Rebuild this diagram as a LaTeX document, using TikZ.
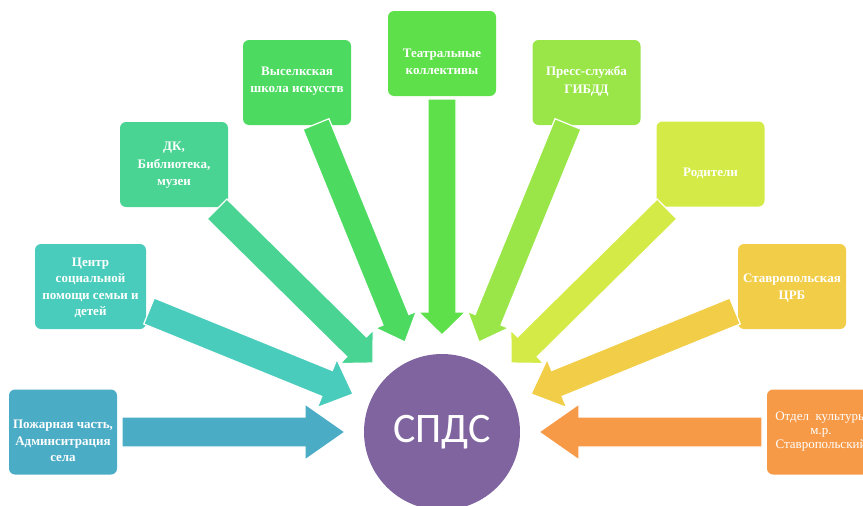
\documentclass[tikz,border=0pt]{standalone}
\usepackage{fontspec}
\setmainfont{Liberation Serif}
\newfontfamily\spdsfont{Carlito}
\usetikzlibrary{calc}
\definecolor{cA}{RGB}{75,172,198}
\definecolor{cB}{RGB}{74,204,188}
\definecolor{cC}{RGB}{74,212,147}
\definecolor{cD}{RGB}{76,219,96}
\definecolor{cE}{RGB}{94,224,74}
\definecolor{cF}{RGB}{154,230,72}
\definecolor{cG}{RGB}{212,235,71}
\definecolor{cH}{RGB}{242,206,72}
\definecolor{cI}{RGB}{247,154,72}
\definecolor{cP}{RGB}{127,100,160}
\tikzset{
  box/.style={rounded corners=6pt, minimum width=108pt, minimum height=85pt, inner sep=0pt, draw=none},
  lbl/.style={text=white, font=\bfseries\fontsize{13}{16.5}\selectfont, align=center, inner sep=0pt},
  lblr/.style={text=white, font=\fontsize{13}{14}\selectfont, align=center, inner sep=0pt},
  arr/.style={draw=white, line width=1.2pt, line join=miter},
}
\newcommand{\blockarrow}[6]{% #1 colour, #2 start, #3 tip, #4 shaft half, #5 head half, #6 head length
  \coordinate (#3-b) at ($(#3)!#6!(#2)$);
  \filldraw[arr, fill=#1] ($(#2)!#4!90:(#3)$) -- ($(#3-b)!#4!90:(#3)$) -- ($(#3-b)!#5!90:(#3)$)
    -- (#3) -- ($(#3-b)!#5!-90:(#3)$) -- ($(#3-b)!#4!-90:(#3)$) -- ($(#2)!#4!-90:(#3)$) -- cycle;
}
\begin{document}
\begin{tikzpicture}[x=1pt,y=-1pt]
\useasboundingbox (0,0) rectangle (863,506);
\clip (0,0) rectangle (863,506);
% boxes
\node (b1) [box, fill=cA] at (63,432) {};
\node (b2) [box, fill=cB, minimum width=111pt] at (90.5,286.5) {};
\node (b3) [box, fill=cC] at (174,164.5) {};
\node (b4) [box, fill=cD] at (297,82.5) {};
\node (b5) [box, fill=cE] at (442,53.5) {};
\node (b6) [box, fill=cF] at (586.5,82.5) {};
\node (b7) [box, fill=cG] at (710.5,164) {};
\node (b8) [box, fill=cH] at (792,286.5) {};
\node (b9) [box, fill=cI] at (821,432) {};
% labels
\node (l1) [lbl] at (63,441) {Пожарная часть,\\Админситрация\\села};
\node (l2) [lbl] at (90.5,288) {Центр\\социальной\\помощи семьи и\\детей};
\node (l3) [lbl] at (174,165) {ДК,\\[2pt]Библиотека,\\музеи};
\node (l4) [lbl] at (297,81) {Выселкская\\школа искусств};
\node (l5) [lbl] at (442,62) {Театральные\\коллективы};
\node (l6) [lbl] at (586.5,81) {Пресс-служба\\[2pt]ГИБДД};
\node (l7) [lbl] at (710.5,173) {Родители};
\node (l8) [lbl] at (792,288) {Ставропольская\\ЦРБ};
\node (l9) [lblr] at (821,432) {Отдел\ \ культуры\\м.р.\\Ставропольский};
% arrow end points
\coordinate (s1) at (122,432); \coordinate (t1) at (345,432);
\coordinate (s9) at (762,432); \coordinate (t9) at (539,432);
\coordinate (s2) at (149,311); \coordinate (t2) at (353,394);
\coordinate (s8) at (735,311); \coordinate (t8) at (531,394);
\coordinate (s3) at (217,209); \coordinate (t3) at (373,363);
\coordinate (s7) at (667,209); \coordinate (t7) at (511,363);
\coordinate (s4) at (316,124); \coordinate (t4) at (405,342);
\coordinate (s6) at (568,124); \coordinate (t6) at (479,342);
\coordinate (s5) at (442,99);  \coordinate (t5) at (442,335);
% arrows
\blockarrow{cA}{s1}{t1}{15pt}{28pt}{40pt}
\blockarrow{cI}{s9}{t9}{15pt}{28pt}{40pt}
\blockarrow{cB}{s2}{t2}{14pt}{26pt}{28pt}
\blockarrow{cH}{s8}{t8}{14pt}{26pt}{28pt}
\blockarrow{cC}{s3}{t3}{14pt}{23.5pt}{23pt}
\blockarrow{cG}{s7}{t7}{14pt}{23.5pt}{23pt}
\blockarrow{cD}{s4}{t4}{14pt}{22pt}{24pt}
\blockarrow{cF}{s6}{t6}{14pt}{22pt}{24pt}
\blockarrow{cE}{s5}{t5}{14pt}{23.5pt}{23pt}
% centre
\node (c) [circle, fill=cP, minimum size=156pt, inner sep=0pt, text=white,
  font=\spdsfont\fontsize{42}{42}\selectfont] at (442,432) {СПДС};
\end{tikzpicture}
\end{document}
